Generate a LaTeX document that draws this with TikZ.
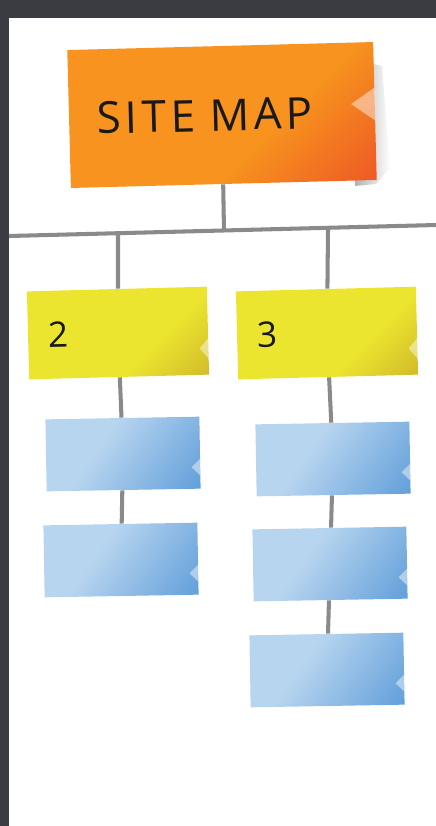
\documentclass[tikz,border=0pt]{standalone}
\usepackage{fontspec}
\setmainfont{Open Sans}
\usepackage{tikz}
\usetikzlibrary{calc, backgrounds}

\definecolor{fondo}{HTML}{3A3C42}
\definecolor{cable}{HTML}{8A8A8A}
\definecolor{naranjaA}{HTML}{F7931E}
\definecolor{naranjaB}{HTML}{EE5A24}
\definecolor{amarilloA}{HTML}{ECE52F}
\definecolor{amarilloB}{HTML}{D2BC2A}
\definecolor{azulA}{HTML}{B8D5EF}
\definecolor{azulB}{HTML}{5A9AD8}

\pgfdeclarehorizontalshading{sombranaranja}{100bp}{color(0bp)=(naranjaA); color(60bp)=(naranjaA); color(84bp)=(naranjaB); color(100bp)=(naranjaB)}
\pgfdeclarehorizontalshading{sombraamarilla}{100bp}{color(0bp)=(amarilloA); color(62bp)=(amarilloA); color(84bp)=(amarilloB); color(100bp)=(amarilloB)}
\pgfdeclarehorizontalshading{sombraazul}{100bp}{color(0bp)=(azulA); color(40bp)=(azulA); color(88bp)=(azulB); color(100bp)=(azulB)}

\begin{document}
\begin{tikzpicture}[x=0.02cm, y=-0.02cm,
    nota/.style={rotate=1.5, inner ysep=0pt, align=left, text=black!90},
    naranja/.style={nota, shading=sombranaranja, shading angle=-45, minimum width=6.12cm, minimum height=2.76cm,
      inner xsep=0.56cm, text width=5cm, font=\addfontfeature{LetterSpace=10}\fontsize{25}{30}\selectfont},
    amarillo/.style={nota, shading=sombraamarilla, shading angle=-45, minimum width=3.6cm, minimum height=1.76cm,
      inner xsep=0.4cm, text width=2.8cm, font=\fontsize{20}{24}\selectfont},
    azul/.style={nota, rotate=-0.5, shading=sombraazul, shading angle=-35,
      minimum width=3.08cm, minimum height=1.44cm},
    wire/.style={draw=cable, line width=2.3pt}]
    \useasboundingbox (0,0) rectangle (436,826);

    % Sombra de la nota principal
    \shade[left color=black!30, right color=white] (366,62) -- (382,66) -- (390,168) -- (376,184) -- (355,186) -- cycle;

    % Notas
    \node[naranja] (site) at (222,115) {SITE MAP};
    \node[amarillo] (sec2) at (118,333) {2};
    \node[amarillo] (sec3) at (327,333) {3};
    \node[azul] (p21) at (123,454) {};
    \node[azul] (p22) at (121,560) {};
    \node[azul] (p31) at (333,459) {};
    \node[azul] (p32) at (330,564) {};
    \node[azul] (p33) at (327,670) {};

    % Esquinas dobladas
    \foreach \n/\f/\d in {site/.55/24, sec2/.3/9, sec3/.3/9, p21/.3/9, p22/.3/9, p31/.3/9, p32/.3/9, p33/.3/9}
        \fill[white, opacity=.45] ($(\n.south east)!\f+.12!(\n.north east)$)
            -- ($(\n.south east)!\f!(\n.north east) + (-\d,0)$)
            -- ($(\n.south east)!\f-.12!(\n.north east)$) -- cycle;

    % Fondo y conexiones
    \begin{scope}[on background layer]
        \fill[fondo] (0,0) rectangle (436,826);
        \fill[white] (9,18) rectangle (436,826);
        \coordinate (busL) at (9,236);
        \coordinate (busR) at (436,225);
        \coordinate (j0) at (224,231);
        \coordinate (j2) at (118,235);
        \coordinate (j3) at (328,230);
        \draw[wire] (busL) -- (busR);
        \draw[wire] (site) -- (j0);
        \draw[wire] (sec2) -- (j2);
        \draw[wire] (sec3) -- (j3);
        \draw[wire] (sec2) -- (p21);
        \draw[wire] (p21) -- (p22);
        \draw[wire] (sec3) -- (p31);
        \draw[wire] (p31) -- (p32);
        \draw[wire] (p32) -- (p33);
    \end{scope}
\end{tikzpicture}
\end{document}
